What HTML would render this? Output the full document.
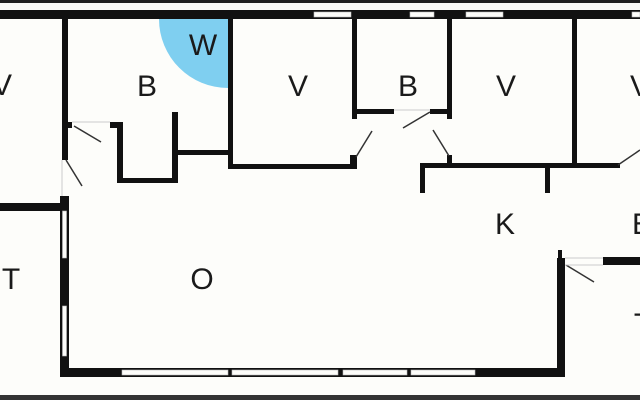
<!DOCTYPE html>
<html><head><meta charset="utf-8"><style>
html,body{margin:0;padding:0;background:#fdfdfa;}
svg{display:block}
text{font-family:"Liberation Sans",sans-serif;font-size:30px;fill:#1a1a1a;text-anchor:middle}
</style></head><body>
<svg width="640" height="400" viewBox="0 0 640 400" xmlns="http://www.w3.org/2000/svg">
<rect width="640" height="400" fill="#fdfdfa"/>
<rect x="0" y="0" width="640" height="3" fill="#222"/>
<rect x="0" y="395" width="640" height="5" fill="#333"/>
<path d="M228,19 L159,19 A69,69 0 0 0 228,88 Z" fill="#7fcff0"/>
<g fill="#111">
<rect x="0" y="10" width="640" height="9"/>
<rect x="62" y="19" width="6" height="141"/>
<rect x="62" y="122" width="10" height="6"/>
<rect x="110" y="122" width="12" height="6"/>
<rect x="117" y="122" width="6" height="61"/>
<rect x="117" y="178" width="60" height="5"/>
<rect x="172" y="112" width="6" height="71"/>
<rect x="172" y="150" width="58" height="5"/>
<rect x="228" y="19" width="5" height="150"/>
<rect x="228" y="164" width="129" height="5"/>
<rect x="352" y="19" width="5" height="100"/>
<rect x="352" y="109" width="42" height="5"/>
<rect x="430" y="109" width="22" height="5"/>
<rect x="447" y="19" width="5" height="100"/>
<rect x="350" y="155" width="7" height="10"/>
<rect x="447" y="155" width="5" height="10"/>
<rect x="572" y="19" width="5" height="147"/>
<rect x="420" y="163" width="200" height="5"/>
<rect x="420" y="163" width="5" height="30"/>
<rect x="545" y="163" width="5" height="30"/>
<rect x="0" y="203" width="68" height="8"/>
<rect x="60" y="196" width="9" height="181"/>
<rect x="60" y="368" width="505" height="9"/>
<rect x="557" y="258" width="8" height="119"/>
<rect x="558" y="250" width="4" height="10"/>
<rect x="603" y="257" width="37" height="8"/>
</g>
<g fill="#fdfdfa" stroke="#bbb" stroke-width="0.6">
<rect x="314" y="12" width="37" height="5"/>
<rect x="410" y="12" width="24" height="5"/>
<rect x="466" y="12" width="37" height="5"/>
<rect x="632" y="12" width="8" height="5"/>
<rect x="62.5" y="211" width="4" height="47"/>
<rect x="62.5" y="306" width="4" height="50"/>
<rect x="122" y="370" width="106" height="5"/>
<rect x="232" y="370" width="106" height="5"/>
<rect x="343" y="370" width="64" height="5"/>
<rect x="411" y="370" width="64" height="5"/>
</g>
<g stroke="#333" stroke-width="1.5" fill="none">
<line x1="74" y1="126" x2="101" y2="142"/>
<line x1="66" y1="160" x2="82" y2="186"/>
<line x1="372" y1="131" x2="356" y2="157"/>
<line x1="403" y1="128" x2="430" y2="112"/>
<line x1="433" y1="130" x2="449" y2="156"/>
<line x1="618" y1="165" x2="640" y2="150"/>
<line x1="566" y1="265" x2="594" y2="282"/>
</g>
<g stroke="#ccc" stroke-width="1" fill="none">
<line x1="72" y1="122" x2="110" y2="122"/>
<line x1="394" y1="110" x2="430" y2="110"/>
<line x1="565" y1="258" x2="603" y2="258"/>
<line x1="565" y1="265" x2="603" y2="265"/>
<line x1="62" y1="160" x2="62" y2="196"/>
</g>
<text x="2" y="95">V</text>
<text x="147" y="96">B</text>
<text x="203" y="55">W</text>
<text x="298" y="96">V</text>
<text x="408" y="96">B</text>
<text x="506" y="96">V</text>
<text x="640" y="96">V</text>
<text x="505" y="234">K</text>
<text x="642" y="234">E</text>
<text x="11" y="289">T</text>
<text x="202" y="289">O</text>
<text x="643" y="334">T</text>
</svg>
</body></html>
